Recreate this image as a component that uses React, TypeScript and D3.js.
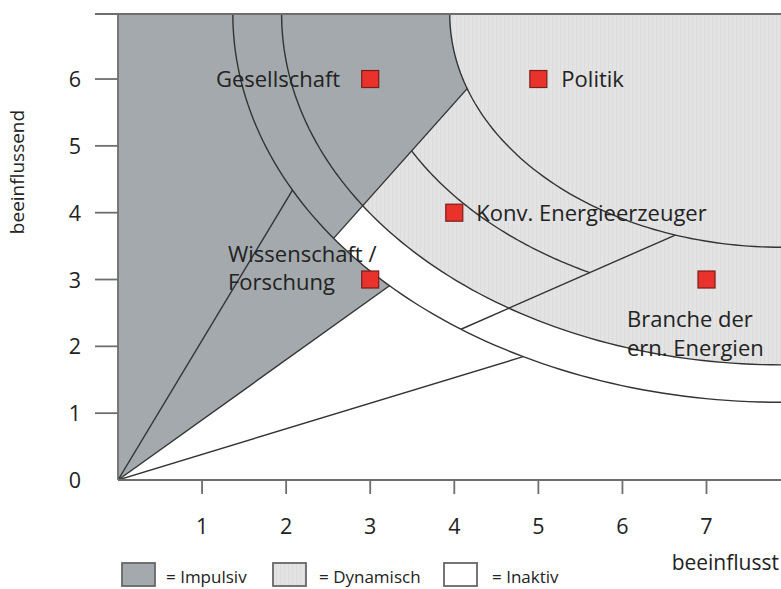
import React from "react";
import * as d3 from "d3";

// ---- data ----
const X_MAX = 7.886;
const Y_MAX = 6.973;
const xTicks = [1, 2, 3, 4, 5, 6, 7];
const yTicks = [0, 1, 2, 3, 4, 5, 6];
const yTickMarks = [1, 2, 3, 4, 5, 6, 6.973];

// quarter-ellipses centred at the top-right corner (data units)
const arcNames = ["outer", "middle", "konv", "inner"];
const arcRx = [6.52, 5.94, 4.98, 3.94];
const arcRy = [5.81, 5.25, 4.35, 3.49];

// rays through the origin (slopes in data units)
const rayNames = ["R1", "R2", "R3", "L", "M"];
const raySlopes = [2.09, 0.9, 0.383, 1.41, 0.553];

const pointNames = ["Gesellschaft", "Politik", "Konv. Energieerzeuger", "Wissenschaft / Forschung", "Branche der ern. Energien"];
const pointX = [3, 5, 4, 3, 7];
const pointY = [6, 6, 4, 3, 3];

const legendLabels = ["= Impulsiv", "= Dynamisch", "= Inaktiv"];

// ---- styles ----
const DARK = "#a3a9ac";
const LIGHT = "#e3e3e3";
const LINE = "#333";
const AXIS = "#6e6e6e";
const FONT = "'Open Sans', 'Noto Sans', sans-serif";

export default function App() {
  const x = d3.scaleLinear().domain([0, X_MAX]).range([118, 781]);
  const y = d3.scaleLinear().domain([0, Y_MAX]).range([480, 14]);

  const arc = (i: number) => ({ rx: arcRx[i], ry: arcRy[i] });
  const ept = (i: number, t: number): [number, number] => {
    const e = arc(i);
    return [X_MAX - e.rx * Math.cos(t), Y_MAX - e.ry * Math.sin(t)];
  };
  const rayT = (i: number, k: number) => {
    let lo = 0, hi = Math.PI / 2;
    const g = (t: number) => { const p = ept(i, t); return p[1] - k * p[0]; };
    for (let n = 0; n < 60; n++) {
      const mid = (lo + hi) / 2;
      if (g(mid) > 0) lo = mid; else hi = mid;
    }
    return (lo + hi) / 2;
  };
  const arcPts = (i: number, t0: number, t1: number, n = 80) =>
    d3.range(n + 1).map((j) => ept(i, t0 + ((t1 - t0) * j) / n));

  const line = d3.line<[number, number]>().x((d) => x(d[0])).y((d) => y(d[1]));

  const kR1 = raySlopes[0], kR2 = raySlopes[1], kR3 = raySlopes[2], kL = raySlopes[3], kM = raySlopes[4];
  const OUT = 0, MID = 1, KONV = 2, INN = 3;

  const tR1 = rayT(OUT, kR1);
  const tR2 = rayT(OUT, kR2);
  const tR3 = rayT(OUT, kR3);
  const tLo = rayT(OUT, kL);
  const tLi = rayT(INN, kL);
  const tMo = rayT(OUT, kM);
  const tMi = rayT(INN, kM);
  const tLk = rayT(KONV, kL);
  const tMk = rayT(KONV, kM);

  const darkPoly: [number, number][] = [
    [0, 0],
    ...arcPts(OUT, tR2, tLo),
    ...arcPts(INN, tLi, 0),
    [0, Y_MAX],
  ];
  const lightPoly: [number, number][] = [...arcPts(MID, 0, Math.PI / 2), [X_MAX, Y_MAX]];

  const sq = 17;

  return (
    <svg width={781} height={589} style={{ position: "absolute", left: 0, top: 0, background: "#fff" }}>
      <defs>
        <pattern id="stripes" width="4" height="10" patternUnits="userSpaceOnUse">
          <rect width="4" height="10" fill={LIGHT} />
          <rect width="1" height="10" fill="#dcdcdc" />
        </pattern>
        <clipPath id="plot">
          <rect x={118} y={14} width={663} height={466} />
        </clipPath>
      </defs>

      <g clipPath="url(#plot)">
        <path d={line(lightPoly) + "Z"} fill="url(#stripes)" />
        <path d={line(darkPoly) + "Z"} fill={DARK} />
        <g fill="none" stroke={LINE} strokeWidth={1.4}>
          <path d={line(arcPts(OUT, 0, Math.PI / 2)) || ""} />
          <path d={line(arcPts(MID, 0, Math.PI / 2)) || ""} />
          <path d={line(arcPts(INN, 0, Math.PI / 2)) || ""} />
          <path d={line(arcPts(KONV, tLk, tMk)) || ""} />
          <path d={line([[0, 0], ept(OUT, tR1)]) || ""} />
          <path d={line([[0, 0], ept(OUT, tR2)]) || ""} />
          <path d={line([[0, 0], ept(OUT, tR3)]) || ""} />
          <path d={line([ept(OUT, tLo), ept(INN, tLi)]) || ""} />
          <path d={line([ept(OUT, tMo), ept(INN, tMi)]) || ""} />
        </g>
      </g>

      {/* axes */}
      <g stroke={AXIS} strokeWidth={1.8}>
        <line x1={x(0)} x2={x(0)} y1={y(Y_MAX)} y2={y(0)} />
        <line x1={x(0)} x2={781} y1={y(0)} y2={y(0)} />
        <line x1={95} x2={781} y1={y(Y_MAX)} y2={y(Y_MAX)} />
        {yTickMarks.map((v) => (
          <line key={"yt" + v} x1={95} x2={x(0)} y1={y(v)} y2={y(v)} />
        ))}
        {xTicks.map((v) => (
          <line key={"xt" + v} x1={x(v)} x2={x(v)} y1={y(0)} y2={y(0) + 14} />
        ))}
      </g>

      <g fontFamily={FONT} fontSize={21.5} fill="#222">
        {yTicks.map((v) => (
          <text key={"yl" + v} x={81} y={y(v) + 8} textAnchor="end">{v}</text>
        ))}
        {xTicks.map((v) => (
          <text key={"xl" + v} x={x(v)} y={534} textAnchor="middle">{v}</text>
        ))}
        <text x={779} y={570} textAnchor="end" fontSize={21}>beeinflusst</text>
        <text transform={`translate(24,172) rotate(-90)`} textAnchor="middle" fontSize={19}>beeinflussend</text>
      </g>

      {/* points */}
      <g>
        {pointNames.map((n, i) => (
          <rect key={n} x={x(pointX[i]) - sq / 2} y={y(pointY[i]) - sq / 2} width={sq} height={sq}
            fill="#e8322b" stroke="#7a1e1a" strokeWidth={1.2} />
        ))}
      </g>
      <g fontFamily={FONT} fontSize={22} fill="#222">
        <text x={x(pointX[0]) - 30} y={y(pointY[0]) + 8} textAnchor="end">{pointNames[0]}</text>
        <text x={x(pointX[1]) + 23} y={y(pointY[1]) + 8}>{pointNames[1]}</text>
        <text x={x(pointX[2]) + 22} y={y(pointY[2]) + 8}>{pointNames[2]}</text>
        <text x={228} y={262}>Wissenschaft /</text>
        <text x={228} y={290}>Forschung</text>
        <text x={627} y={327}>Branche der</text>
        <text x={627} y={356}>ern. Energien</text>
      </g>

      {/* legend */}
      <g stroke="#666" strokeWidth={1.8}>
        <rect x={122} y={563} width={33} height={23} fill={DARK} />
        <rect x={273} y={563} width={33} height={23} fill="url(#stripes)" />
        <rect x={444} y={563} width={33} height={23} fill="#fff" />
      </g>
      <g fontFamily={FONT} fontSize={17} fill="#222">
        <text x={166} y={583}>{legendLabels[0]}</text>
        <text x={319} y={583}>{legendLabels[1]}</text>
        <text x={492} y={583}>{legendLabels[2]}</text>
      </g>
    </svg>
  );
}
